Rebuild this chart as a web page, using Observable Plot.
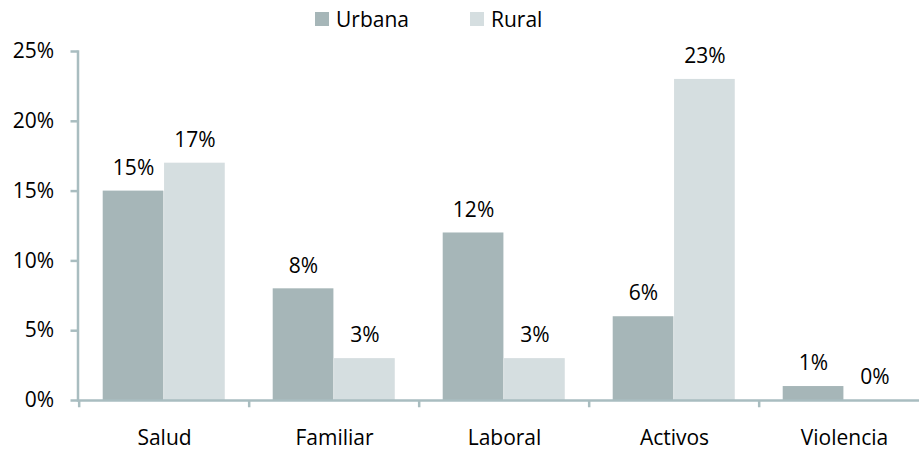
<!DOCTYPE html>
<html>
<head>
<meta charset="utf-8">
<script src="https://cdn.jsdelivr.net/npm/d3@7"></script>
<script src="https://cdn.jsdelivr.net/npm/@observablehq/plot@0.6"></script>
<style>
  html, body { margin: 0; padding: 0; background: #fff; overflow: hidden; }
  body { width: 919px; height: 452px; font-family: "Open Sans", sans-serif; }
  #legend { position: relative; height: 36px; }
  .item { position: absolute; top: 0; height: 37px; display: flex; align-items: center; font-size: 21px; color: #000; }
  .sw { width: 14px; height: 14px; margin-right: 7px; }
</style>
</head>
<body>
<div id="legend"></div>
<div id="chart"></div>
<script>
const categories = ["Salud", "Familiar", "Laboral", "Activos", "Violencia"];
const seriesNames = ["Urbana", "Rural"];
const urbana = [15, 8, 12, 6, 1];
const rural = [17, 3, 3, 23, 0];
const yTicks = [0, 5, 10, 15, 20, 25];
const colors = ["#a6b6b8", "#d5dee0"];
const axisColor = "#a9bdc0";

const table = [];
categories.forEach((c, i) => {
  table.push({cat: c, series: "Urbana", value: urbana[i]});
  table.push({cat: c, series: "Rural", value: rural[i]});
});

// legend
const legend = document.getElementById("legend");
const legendLeft = [315, 470];
seriesNames.forEach((s, i) => {
  const it = document.createElement("div");
  it.className = "item";
  it.style.left = legendLeft[i] + "px";
  it.innerHTML = `<div class="sw" style="background:${colors[i]}"></div><span>${s}</span>`;
  legend.appendChild(it);
});

const W = 919, H = 416;
const x0 = 77.5, x1 = 930.7;
const bw = (x1 - x0) / categories.length;
const groupOffset = 23.7, barW = 61.35;
const urbDx = groupOffset + barW / 2 - bw / 2;
const rurDx = groupOffset + 1.5 * barW - bw / 2;

const urbRows = table.filter(d => d.series === "Urbana");
const rurRows = table.filter(d => d.series === "Rural");

const plot = Plot.plot({
  width: W,
  height: H,
  marginTop: 15,
  marginBottom: 52,
  marginLeft: x0,
  marginRight: 0,
  style: {fontFamily: "Open Sans, sans-serif", fontSize: "21px", color: "#000", background: "#fff"},
  x: {domain: categories, range: [x0, x1], padding: 0},
  y: {domain: [0, 25]},
  color: {domain: seriesNames, range: colors},
  marks: [
    Plot.barY(urbRows, {
      x: "cat", y: "value", fill: "series",
      insetLeft: groupOffset, insetRight: bw - groupOffset - barW
    }),
    Plot.barY(rurRows, {
      x: "cat", y: "value", fill: "series",
      insetLeft: groupOffset + barW, insetRight: bw - groupOffset - 2 * barW
    }),
    Plot.text(urbRows, {
      x: "cat", y: "value", text: d => d.value + "%",
      dx: urbDx, dy: -23, fill: "#000", fontSize: 21, lineAnchor: "middle"
    }),
    Plot.text(rurRows, {
      x: "cat", y: "value", text: d => d.value + "%",
      dx: rurDx, dy: -23, fill: "#000", fontSize: 21, lineAnchor: "middle"
    }),
    Plot.frame({anchor: "left", stroke: axisColor, strokeWidth: 2.5}),
    Plot.ruleY([0], {stroke: axisColor, strokeWidth: 2.5}),
    Plot.ruleX(categories, {x: d => d, y1: 0, y2: -0.52, dx: -bw / 2, stroke: axisColor, strokeWidth: 2.5}),
    Plot.axisY({ticks: yTicks, tickFormat: d => d + "%", tickSize: 7, tickPadding: 17, stroke: axisColor, strokeWidth: 2.5, fill: "#000", fontSize: 21, label: null}),
    Plot.axisX({tickSize: 0, tickPadding: 30, fill: "#000", fontSize: 21, label: null})
  ]
});
document.getElementById("chart").appendChild(plot);
</script>
</body>
</html>
